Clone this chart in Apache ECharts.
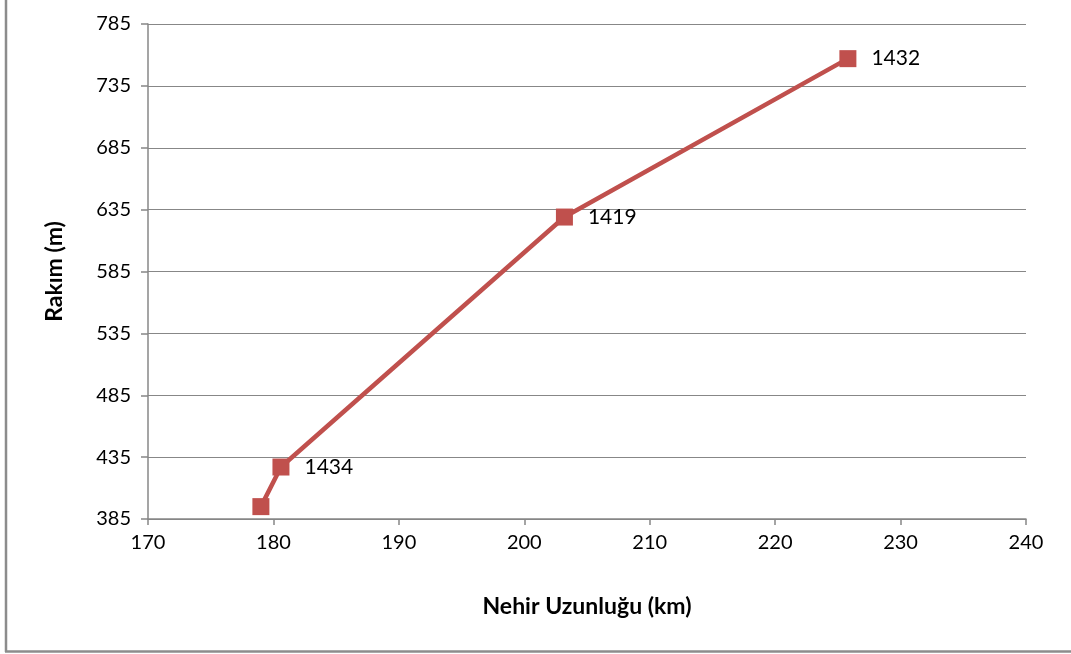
<!DOCTYPE html>
<html>
<head>
<meta charset="utf-8">
<script src="https://cdn.jsdelivr.net/npm/echarts@6/dist/echarts.min.js"></script>
<style>
    html, body { margin: 0; padding: 0; background: #fff; }
    #chart { width: 1071px; height: 654px; }
</style>
</head>
<body>
<div id="chart"></div>
<script>
// nehir uzunluğu (km) / rakım (m)
var lengthKm = [179.0, 180.6, 203.2, 225.8];
var altitudeM = [395, 427, 629, 757];
var pointLabels = ['', '1434', '1419', '1432'];
var yTicks = [385, 435, 485, 535, 585, 635, 685, 735, 785];

var pts = lengthKm.map(function(x, i) {
    return { value: [x, altitudeM[i]], label: pointLabels[i] };
});

var myChart = echarts.init(document.getElementById('chart'));
var gray = '#878787';
var option = {
    backgroundColor: '#fff',
    animation: false,
    textStyle: { fontFamily: 'Lato, "Open Sans", sans-serif' },
    grid: { left: 148, right: 45, top: 24, bottom: 135 },
    xAxis: {
        type: 'value',
        min: 170, max: 240, interval: 10,
        name: 'Nehir Uzunluğu (km)',
        nameLocation: 'middle',
        nameGap: 76,
        nameTextStyle: { fontSize: 23, fontWeight: 'bold', color: '#000' },
        axisLine: { show: true, lineStyle: { color: gray, width: 1.5 } },
        axisTick: { show: true, length: 6, lineStyle: { color: gray, width: 1.5 } },
        axisLabel: { fontSize: 20, color: '#000', margin: 14 },
        splitLine: { show: false }
    },
    yAxis: {
        type: 'value',
        min: 385, max: 785,
        name: 'Rakım (m)',
        nameLocation: 'middle',
        nameGap: 82,
        nameTextStyle: { fontSize: 23, fontWeight: 'bold', color: '#000' },
        axisLine: { show: true, lineStyle: { color: gray, width: 1.5 } },
        axisTick: { show: true, length: 7, inside: false, customValues: yTicks, lineStyle: { color: gray, width: 1.5 } },
        axisLabel: { fontSize: 20, color: '#000', margin: 17, customValues: yTicks },
        splitLine: { show: true, lineStyle: { color: gray, width: 1.2 } }
    },
    series: [{
        type: 'line',
        data: pts,
        symbol: 'rect',
        symbolSize: 17,
        lineStyle: { color: '#c0504d', width: 4.5 },
        itemStyle: { color: '#c0504d' },
        label: {
            show: true,
            position: 'right',
            distance: 15,
            fontSize: 21,
            color: '#000',
            formatter: function(p) { return p.data.label; }
        }
    }],
    graphic: [
        { type: 'line', shape: { x1: 6, y1: 0, x2: 6, y2: 652 }, style: { stroke: '#8c8c8c', lineWidth: 2.5 } },
        { type: 'line', shape: { x1: 5, y1: 651.5, x2: 1071, y2: 651.5 }, style: { stroke: '#8c8c8c', lineWidth: 2.5 } }
    ]
};
myChart.setOption(option);
</script>
</body>
</html>
